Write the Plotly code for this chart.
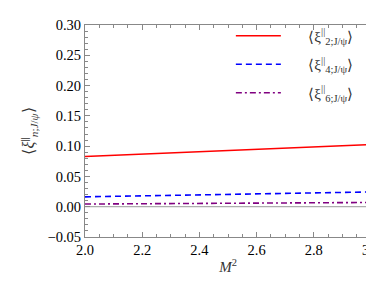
import plotly.graph_objects as go

x_vals = [2.0, 3.0]
xi2 = [0.083, 0.1026]
xi4 = [0.0163, 0.0244]
xi6 = [0.0044, 0.0070]
names = ["⟨ξ<sup>||</sup><sub>2;J/ψ</sub>⟩", "⟨ξ<sup>||</sup><sub>4;J/ψ</sub>⟩", "⟨ξ<sup>||</sup><sub>6;J/ψ</sub>⟩"]
y_ticks = [-0.05, 0.0, 0.05, 0.10, 0.15, 0.20, 0.25, 0.30]
x_ticks = [2.0, 2.2, 2.4, 2.6, 2.8, 3.0]

font = "Liberation Serif"
pad = "\u00a0" * 6
fig = go.Figure()
fig.add_trace(go.Scatter(x=x_vals, y=[0, 0], mode="lines", line=dict(color="#999999", width=1), showlegend=False, hoverinfo="skip"))
fig.add_trace(go.Scatter(x=x_vals, y=xi2, mode="lines", name=pad + names[0], legendgroup="a", line=dict(color="#ff0000", width=1.6)))
fig.add_trace(go.Scatter(x=x_vals, y=xi4, mode="lines", name=pad + names[1], legendgroup="b", line=dict(color="#0000ff", width=1.6, dash="6px,4px")))
fig.add_trace(go.Scatter(x=x_vals, y=xi6, mode="lines", name=pad + names[2], legendgroup="c", line=dict(color="#800080", width=1.6, dash="6px,3px,2px,3px")))

fig.update_layout(
    template="none",
    width=374, height=282, margin=dict(l=77, r=11, t=14, b=53),
    font=dict(family=font, size=14, color="#333333"),
    plot_bgcolor="white", paper_bgcolor="white",
    xaxis=dict(range=[2.0, 3.0], tickvals=x_ticks, tickformat=".1f",
               showline=True, linecolor="#888888", linewidth=1, mirror="ticks", ticks="inside",
               ticklen=5, tickcolor="#888888", showgrid=False, zeroline=False,
               tickfont=dict(family=font, size=14.5, color="black"),
               minor=dict(ticks="inside", ticklen=3, dtick=0.05, tick0=2.0, tickcolor="#888888", showgrid=False),
               title=dict(text="<i>M</i><sup>2</sup>", font=dict(family=font, size=15, color="#333333"), standoff=4)),
    yaxis=dict(range=[-0.05, 0.30], tickvals=y_ticks, tickformat=".2f",
               showline=True, linecolor="#888888", linewidth=1, mirror="ticks", ticks="inside",
               ticklen=5, tickcolor="#888888", showgrid=False, zeroline=False,
               tickfont=dict(family=font, size=14.5, color="black"),
               minor=dict(ticks="inside", ticklen=3, dtick=0.01, tick0=0, tickcolor="#888888", showgrid=False),
               title=dict(text="⟨<i>ξ</i><sup>||</sup><sub><i>n</i>;<i>J</i>/<i>ψ</i></sub>⟩", font=dict(family=font, size=16, color="#333333"), standoff=8)),
    legend=dict(x=0.51, y=1.026, xanchor="left", yanchor="top", bgcolor="rgba(0,0,0,0)",
                font=dict(family=font, size=15, color="#333333"), itemwidth=45,
                traceorder="grouped", tracegroupgap=6),
    showlegend=True)
fig.write_html("out.html")
